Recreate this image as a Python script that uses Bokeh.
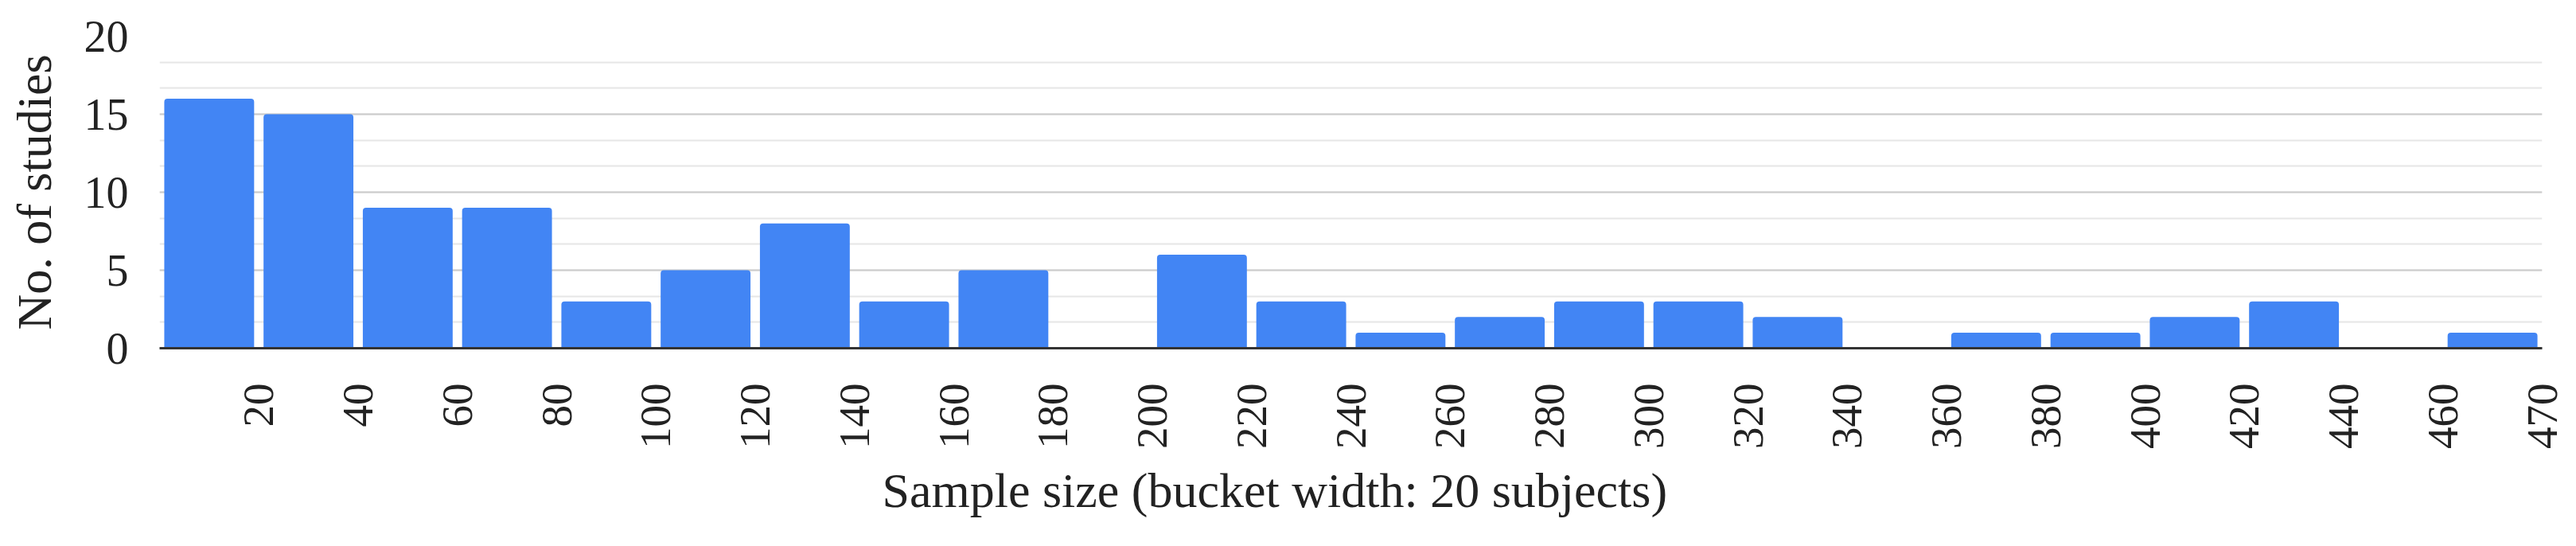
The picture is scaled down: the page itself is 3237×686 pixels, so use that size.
import math
import numpy as np
from bokeh.plotting import figure
from bokeh.models import Range1d, FixedTicker, SingleIntervalTicker, ColumnDataSource, Title
from bokeh.embed import file_html
from bokeh.resources import INLINE

# Data
bucket_labels = ["20", "40", "60", "80", "100", "120", "140", "160", "180", "200",
                 "220", "240", "260", "280", "300", "320", "340", "360", "380", "400",
                 "420", "440", "460", "470"]
study_counts = [16, 15, 9, 9, 3, 5, 8, 3, 5, 0, 6, 3, 1, 2, 3, 3, 2, 0, 1, 1, 2, 3, 0, 1]
y_title = "No. of studies"
x_title = "Sample size (bucket width: 20 subjects)"

n = len(study_counts)
idx = np.arange(n)
src = ColumnDataSource(dict(x=idx + 0.5, top=study_counts))

FONT = "Liberation Serif"

p = figure(width=3237, height=686, output_backend="svg", toolbar_location=None,
           x_range=Range1d(0, n), y_range=Range1d(0, 20),
           min_border_left=200, min_border_right=43, min_border_top=45,
           min_border_bottom=249, outline_line_color=None, background_fill_color="white")

p.vbar(x="x", top="top", width=0.905, source=src, fill_color="#4285F4",
       line_color=None, border_radius=(4, 4, 0, 0))

# y axis
p.yaxis.ticker = SingleIntervalTicker(interval=5, num_minor_ticks=3)
p.yaxis.axis_line_color = None
p.yaxis.major_tick_line_color = None
p.yaxis.minor_tick_line_color = None
p.yaxis.major_label_text_font = FONT
p.yaxis.major_label_text_font_size = "56px"
p.yaxis.major_label_text_color = "#222222"
p.yaxis.major_label_standoff = 33
p.yaxis.axis_label = y_title
p.yaxis.axis_label_text_font = FONT
p.yaxis.axis_label_text_font_size = "62px"
p.yaxis.axis_label_text_font_style = "normal"
p.yaxis.axis_label_text_color = "#222222"
p.yaxis.axis_label_standoff = 26

p.ygrid.grid_line_color = "#cccccc"
p.ygrid.grid_line_width = 2
p.ygrid.minor_grid_line_color = "#e6e6e6"
p.ygrid.minor_grid_line_width = 2
p.xgrid.grid_line_color = None

# x axis
p.xaxis.ticker = FixedTicker(ticks=list(idx + 1))
p.xaxis.major_label_overrides = {int(i + 1): lab for i, lab in zip(idx, bucket_labels)}
p.xaxis.major_label_orientation = math.pi / 2
p.xaxis.axis_line_color = "#333333"
p.xaxis.axis_line_width = 3
p.xaxis.major_tick_line_color = None
p.xaxis.minor_tick_line_color = None
p.xaxis.major_label_text_font = FONT
p.xaxis.major_label_text_font_size = "55px"
p.xaxis.major_label_text_color = "#222222"
p.xaxis.major_label_standoff = 38

t = Title(text=x_title, align="left", offset=908, standoff=24,
          text_font=FONT, text_font_size="62px", text_font_style="normal",
          text_color="#222222")
p.add_layout(t, "below")

open("out.html", "w").write(file_html(p, INLINE))
